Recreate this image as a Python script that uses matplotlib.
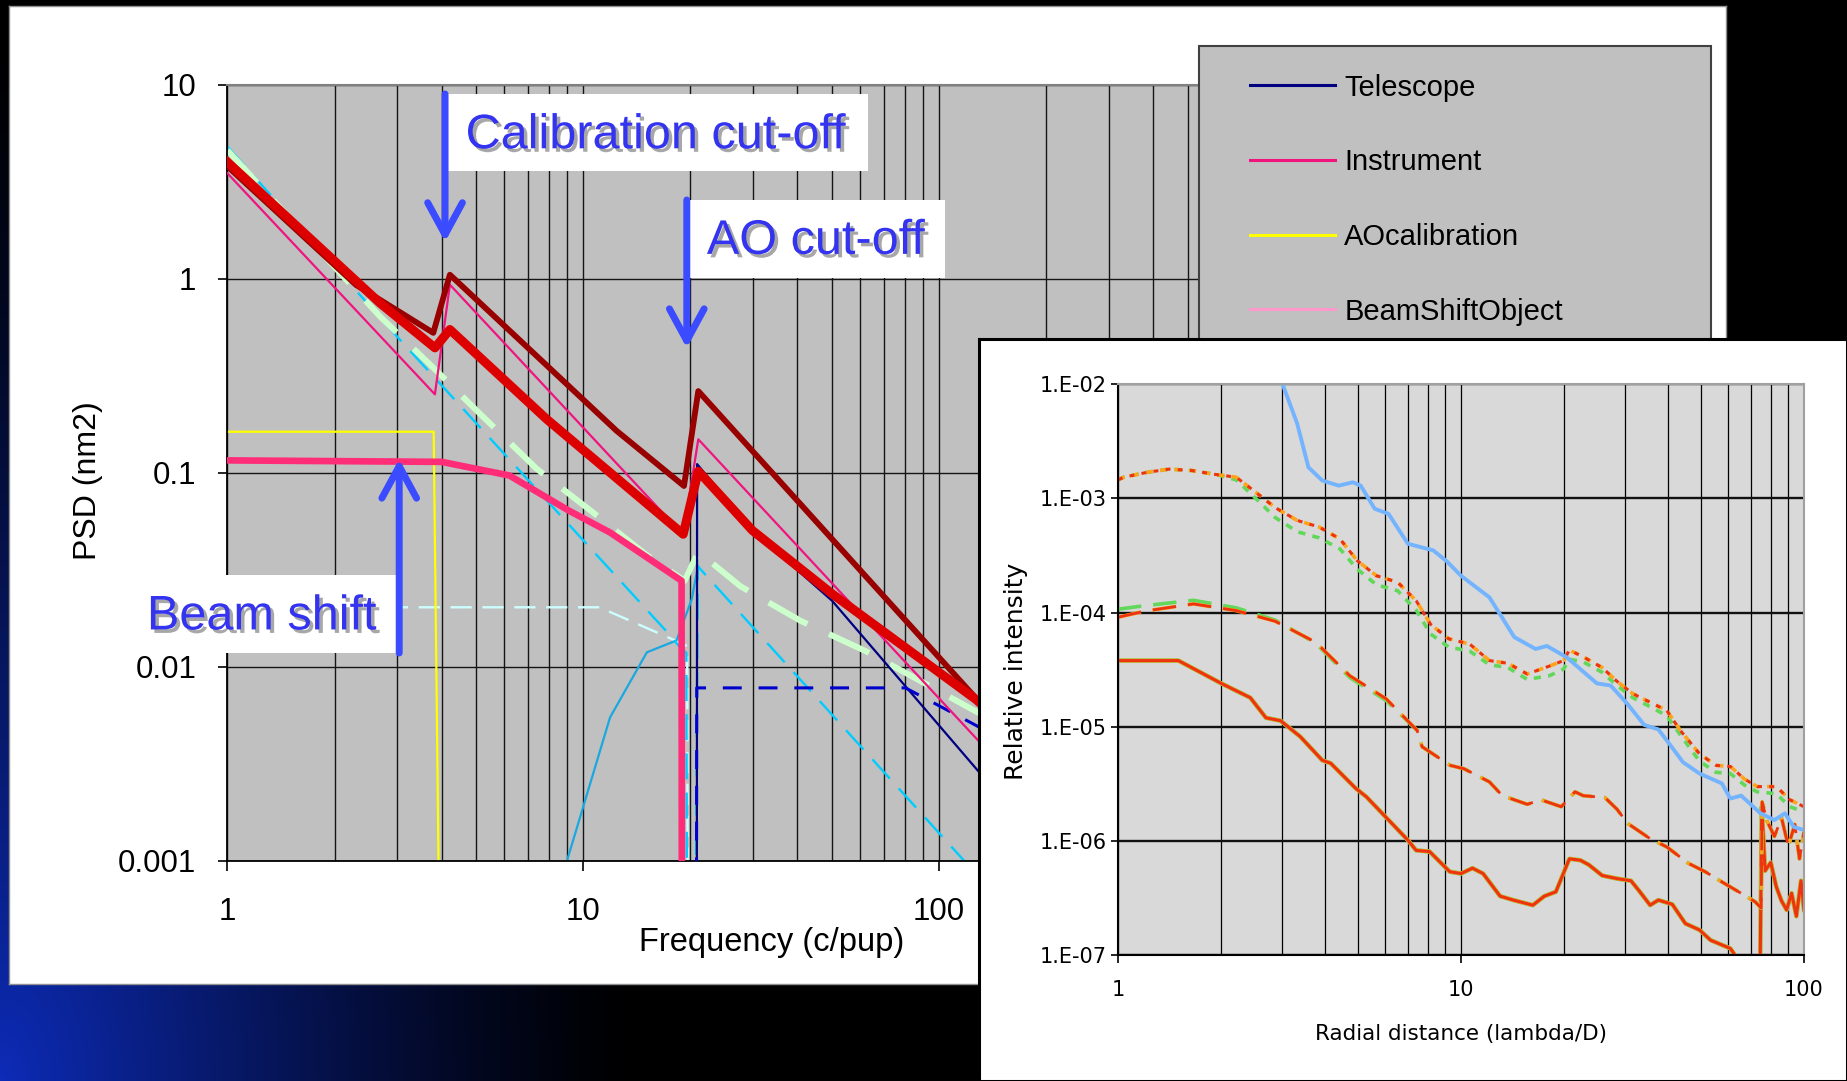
import numpy as np
import matplotlib
matplotlib.use('Agg')
import matplotlib.pyplot as plt
import matplotlib.patheffects as pe
from matplotlib.patches import Rectangle
from matplotlib.lines import Line2D
from matplotlib.ticker import LogLocator, FixedLocator, FixedFormatter, NullLocator

plt.rcParams['font.family'] = ['Liberation Sans', 'DejaVu Sans']

# ---------------- main chart: PSD (nm2) vs frequency (c/pup) ----------------
# thick dark red
total_f = [1, 2.3, 3.79, 4.22, 12.4, 19.2, 21.06, 127, 150]
total_psd = [3.8, 0.93, 0.527, 1.05, 0.165, 0.0856, 0.264, 0.0069, 0.005]
# thick red
sum_f = [1, 2.685, 3.83, 4.22, 7.9, 19.1, 21.06, 29.9, 50.1, 127, 150]
sum_psd = [4.0, 0.75, 0.441, 0.548, 0.189, 0.0483, 0.102, 0.0505, 0.0238, 0.0068, 0.0052]
# Telescope (navy)
tel_f = [20.85, 20.9, 29.9, 50.1, 127, 150]
tel_psd = [1e-4, 0.111, 0.0505, 0.0219, 0.003, 0.0021]
# Instrument (pink)
ins_f = [1, 3.83, 4.22, 19.1, 21.06, 127, 150]
ins_psd = [3.5, 0.254, 0.933, 0.048, 0.149, 0.0043, 0.0031]
# AOcalibration (yellow)
aocal_f = [1, 3.8, 3.92]
aocal_psd = [0.163, 0.163, 0.001]
# beam shift (thick hot pink)
beam_f = [1, 4.0, 6.2, 9.1, 11.9, 18.9, 18.95]
beam_psd = [0.116, 0.114, 0.097, 0.064, 0.0493, 0.0278, 1e-4]
# light green dashed
lgreen_f = [1, 2.685, 3.85, 5.04, 7.4, 10.6, 15, 19.28, 21.06, 27.7, 40.8, 62, 92.7, 127, 150]
lgreen_psd = [4.6, 0.64, 0.339, 0.208, 0.105, 0.063, 0.038, 0.0278, 0.0392, 0.026, 0.0173,
              0.0121, 0.0081, 0.0059, 0.005]
# sky blue dashed
cyan_f = [1, 3.05, 17.4, 18.6, 19.5, 19.6, 20.6, 21.0, 119, 150]
cyan_psd = [4.8, 0.487, 0.0148, 0.0128, 0.0118, 1e-4, 1e-4, 0.033, 0.00098, 0.00062]
# light turquoise dashed
lcyan_f = [1, 11.1, 17.8, 19.6, 19.7]
lcyan_psd = [0.0203, 0.0203, 0.0139, 0.0128, 1e-4]
# thin sky blue
sky_f = [9.0, 11.9, 15.1, 18.3, 20.2, 21.0]
sky_psd = [0.001, 0.0055, 0.0119, 0.0137, 0.0224, 0.033]
# blue dashed
bdash_f = [20.8, 20.85, 80.5, 127, 150]
bdash_psd = [1e-4, 0.0078, 0.0078, 0.005, 0.0042]

main_xticks = [1, 10, 100, 1000]
main_xlabels = ['1', '10', '100', '1000']
main_yticks = [0.001, 0.01, 0.1, 1, 10]
main_ylabels = ['0.001', '0.01', '0.1', '1', '10']
legend_labels = ['Telescope', 'Instrument', 'AOcalibration', 'BeamShiftObject']
legend_colors = ['#000080', '#f0147f', '#ffff00', '#ff99cc']

# ---------------- inset: relative intensity vs radial distance ----------------
blue_r = [2.95, 3.33, 3.59, 3.94, 4.4, 4.84, 5.1, 5.6, 6.15, 7.0, 8.3, 9.1, 10, 12.1, 14.3,
          16.5, 17.8, 20.3, 24.9, 27.3, 30.6, 34.2, 37.6, 40.5, 44.4, 49.6, 57.6, 61, 65.6,
          74.7, 82, 88, 93.4, 100]
blue_i = [1.2e-2, 4.5e-3, 1.87e-3, 1.43e-3, 1.29e-3, 1.38e-3, 1.29e-3, 8.1e-4, 7.3e-4, 4.0e-4,
          3.5e-4, 2.8e-4, 2.1e-4, 1.36e-4, 6.1e-5, 4.8e-5, 5.1e-5, 4.07e-5, 2.4e-5, 2.3e-5,
          1.58e-5, 1.04e-5, 9.5e-6, 7.1e-6, 4.9e-6, 3.9e-6, 3.2e-6, 2.36e-6, 2.5e-6, 1.75e-6,
          1.53e-6, 1.75e-6, 1.33e-6, 1.25e-6]

dot_r = [1.0, 1.04, 1.22, 1.41, 1.64, 1.94, 2.21, 2.52, 2.87, 3.33, 3.86, 4.44, 4.98, 5.67,
         6.54, 7.4, 8.15, 9.2, 10.6, 12.1, 13.7, 15.6, 18.1, 19.9, 20.7, 22.7, 25.8, 28.5,
         31.7, 35.6, 39.8, 43.6, 49.6, 55.4, 61, 67, 73, 83, 91, 100]
dot_red = [1.45e-3, 1.53e-3, 1.69e-3, 1.80e-3, 1.75e-3, 1.61e-3, 1.53e-3, 1.13e-3, 8.3e-4,
           6.4e-4, 5.6e-4, 4.4e-4, 2.85e-4, 2.1e-4, 1.84e-4, 1.27e-4, 7.9e-5, 5.9e-5, 5.3e-5,
           3.8e-5, 3.6e-5, 2.9e-5, 3.4e-5, 3.8e-5, 4.7e-5, 4.1e-5, 3.3e-5, 2.5e-5, 1.95e-5,
           1.64e-5, 1.39e-5, 9.3e-6, 5.8e-6, 4.6e-6, 4.5e-6, 3.5e-6, 3.0e-6, 3.0e-6, 2.3e-6,
           2.0e-6]
dot_green = [1.45e-3, 1.53e-3, 1.69e-3, 1.80e-3, 1.75e-3, 1.61e-3, 1.45e-3, 1.0e-3, 6.8e-4,
             5.1e-4, 4.5e-4, 3.6e-4, 2.4e-4, 1.75e-4, 1.55e-4, 1.05e-4, 6.5e-5, 5.0e-5, 4.6e-5,
             3.5e-5, 3.3e-5, 2.6e-5, 2.8e-5, 3.2e-5, 3.9e-5, 3.7e-5, 3.0e-5, 2.3e-5, 1.8e-5,
             1.5e-5, 1.25e-5, 8.5e-6, 5.0e-6, 4.0e-6, 3.9e-6, 3.1e-6, 2.7e-6, 2.6e-6, 2.0e-6,
             1.8e-6]

dash_r = [1.0, 1.2, 1.66, 2.21, 2.87, 3.77, 4.74, 6.05, 7.45, 7.7, 9.3, 10.2, 12.1, 13.2, 15.6,
          17.1, 19.6, 21.5, 22.7, 26.3, 28.5, 30.6, 35.6, 39.8, 46, 51.5, 57.6, 64.5, 72, 75,
          75.5, 78, 82, 86, 90, 94, 97, 100]
dash_red = [9.1e-5, 1.03e-4, 1.19e-4, 1.04e-4, 8.4e-5, 5.5e-5, 2.8e-5, 1.76e-5, 9.3e-6, 6.7e-6,
            4.6e-6, 4.3e-6, 3.3e-6, 2.5e-6, 2.1e-6, 2.3e-6, 2.0e-6, 2.7e-6, 2.5e-6, 2.4e-6,
            1.9e-6, 1.43e-6, 1.05e-6, 8.9e-7, 6.4e-7, 5.4e-7, 4.4e-7, 3.6e-7, 2.95e-7, 2.6e-7,
            2.2e-6, 1.5e-6, 1.1e-6, 1.6e-6, 9e-7, 1.4e-6, 7e-7, 1.2e-6]
dash_green = [1.07e-4, 1.15e-4, 1.28e-4, 1.1e-4, 8.6e-5, 5.4e-5, 2.7e-5, 1.7e-5, 9.3e-6, 6.7e-6,
              4.6e-6, 4.3e-6, 3.3e-6, 2.5e-6, 2.1e-6, 2.3e-6, 2.0e-6, 2.7e-6, 2.5e-6, 2.4e-6,
              1.9e-6, 1.43e-6, 1.05e-6, 8.9e-7, 6.4e-7, 5.4e-7, 4.4e-7, 3.6e-7, 2.95e-7, 2.6e-7,
              2.2e-6, 1.5e-6, 1.1e-6, 1.6e-6, 9e-7, 1.4e-6, 7e-7, 1.2e-6]

solid_r = [1.0, 1.5, 2.0, 2.43, 2.7, 2.98, 3.4, 3.94, 4.17, 4.93, 5.3, 6.15, 7.0, 7.4, 8.1, 9.27,
           10, 10.8, 11.6, 13.0, 14.2, 16.2, 17.5, 18.9, 20.7, 22.3, 23.6, 25.8, 28.5, 31.3, 33.0,
           35.6, 37.6, 41.3, 45.1, 49.6, 53.4, 61, 63.3, 68, 74.5, 75.3, 77, 80, 83, 86, 89, 92,
           95, 98, 100]
solid_red = [3.8e-5, 3.8e-5, 2.4e-5, 1.8e-5, 1.2e-5, 1.13e-5, 8.2e-6, 5.1e-6, 4.8e-6, 2.9e-6,
             2.44e-6, 1.53e-6, 1.02e-6, 8.3e-7, 8.1e-7, 5.4e-7, 5.2e-7, 5.8e-7, 5.2e-7, 3.3e-7,
             3.05e-7, 2.75e-7, 3.3e-7, 3.6e-7, 7.0e-7, 6.8e-7, 6.2e-7, 5.0e-7, 4.7e-7, 4.5e-7,
             3.7e-7, 2.75e-7, 3.05e-7, 2.8e-7, 1.9e-7, 1.67e-7, 1.36e-7, 1.15e-7, 9.8e-8, 7e-8,
             8e-8, 2.0e-6, 5.5e-7, 6.5e-7, 4e-7, 3e-7, 2.5e-7, 3.5e-7, 2.2e-7, 4.5e-7, 2.5e-7]

inset_xticks = [1, 10, 100]
inset_xlabels = ['1', '10', '100']
inset_yticks = [1e-7, 1e-6, 1e-5, 1e-4, 1e-3, 1e-2]
inset_ylabels = ['1.E-07', '1.E-06', '1.E-05', '1.E-04', '1.E-03', '1.E-02']

# ---------------- figure ----------------
W, H = 1847, 1081
fig = plt.figure(figsize=(W / 100, H / 100), dpi=100)
fig.patch.set_facecolor('black')


def box(x0, y0, x1, y1):
    # pixel box (y from top) -> figure fraction rect
    return [x0 / W, 1 - y1 / H, (x1 - x0) / W, (y1 - y0) / H]


# slide background: blue glow bottom-left
bg = fig.add_axes([0, 0, 1, 1])
yy, xx = np.mgrid[0:H:3, 0:W:3]
d = np.sqrt((xx / 640.0) ** 2 + ((H - yy) / 1050.0) ** 2)
glow = np.clip(1 - d, 0, 1) ** 1.3
img = glow[..., None] * np.array([0.05, 0.17, 0.72])
bg.imshow(img, extent=(0, 1, 0, 1), aspect='auto', origin='upper')
bg.set_xlim(0, 1)
bg.set_ylim(0, 1)
bg.axis('off')

# white slide panel
panel = fig.add_axes(box(9, 6, 1726, 984))
panel.set_facecolor('white')
panel.set_xticks([])
panel.set_yticks([])
for s in panel.spines.values():
    s.set_color('#909090')
    s.set_linewidth(1)

# main axes
ax = fig.add_axes(box(227.4, 84.8, 1294.8, 861))
ax.set_facecolor('#c0c0c0')
ax.set_xscale('log')
ax.set_yscale('log')
ax.set_xlim(1, 1000)
ax.set_ylim(1e-3, 10)
ax.set_axisbelow(True)

ax.plot(lcyan_f, lcyan_psd, color='#ccffff', lw=1.7, dashes=(9, 4.5), zorder=2)
ax.plot(aocal_f, aocal_psd, color='#ffff00', lw=1.6, zorder=2.1)
ax.plot(sky_f, sky_psd, color='#1aa8e0', lw=1.6, zorder=2.2)
ax.plot(cyan_f, cyan_psd, color='#00ccff', lw=1.7, dashes=(11, 5.6), zorder=2.3)
ax.plot(lgreen_f, lgreen_psd, color='#ccffcc', lw=4.3, dashes=(7.4, 4), zorder=2.4)
ax.plot(tel_f, tel_psd, color='#000080', lw=1.6, zorder=2.5)
ax.plot(bdash_f, bdash_psd, color='#0000cc', lw=2.2, dashes=(6.2, 5.5), zorder=2.6)
ax.plot(ins_f, ins_psd, color='#f0147f', lw=1.6, zorder=2.7)
ax.plot(beam_f, beam_psd, color='#ff2d78', lw=4.8, zorder=2.8)
ax.plot(total_f, total_psd, color='#990000', lw=4.2, zorder=2.9)
ax.plot(sum_f, sum_psd, color='#dd0000', lw=6.5, zorder=3.0)

ax.xaxis.set_major_locator(FixedLocator(main_xticks))
ax.xaxis.set_major_formatter(FixedFormatter(main_xlabels))
ax.xaxis.set_minor_locator(LogLocator(base=10, subs=np.arange(2, 10), numticks=30))
ax.yaxis.set_major_locator(FixedLocator(main_yticks))
ax.yaxis.set_major_formatter(FixedFormatter(main_ylabels))
ax.yaxis.set_minor_locator(NullLocator())
ax.grid(which='both', axis='x', color='#151515', lw=1.0)
ax.grid(which='major', axis='y', color='#151515', lw=1.0)
ax.tick_params(axis='both', which='minor', length=0)
ax.tick_params(axis='x', which='major', direction='out', length=7, width=1.2, labelsize=22.5, pad=19)
ax.tick_params(axis='y', which='major', direction='out', length=6.5, width=1.2, labelsize=22.5, pad=16)
ax.spines['top'].set_color('#808080')
ax.spines['top'].set_linewidth(1.5)
ax.spines['right'].set_visible(False)
for s in ('left', 'bottom'):
    ax.spines[s].set_color('black')
    ax.spines[s].set_linewidth(1.3)

ax.set_xlabel('Frequency (c/pup)', fontsize=23.5)
ax.xaxis.label.set_va('center')
ax.xaxis.set_label_coords(0.5098, -0.1044)
ax.set_ylabel('PSD (nm2)', fontsize=23)
ax.yaxis.label.set_va('center')
ax.yaxis.set_label_coords(-0.1306, 0.4896)

# legend box (partly hidden by the inset)
ax.add_patch(Rectangle((1199 / W, 1 - 362 / H), (1711 - 1199) / W, (362 - 46) / H,
                       transform=fig.transFigure, facecolor='#c0c0c0', edgecolor='#404040',
                       lw=1.5, zorder=10, clip_on=False))
handles = [Line2D([], [], color=c, lw=2.2) for c in legend_colors]
leg = ax.legend(handles, legend_labels, loc='upper left', frameon=False,
                bbox_to_anchor=(1238 / W, 1 - 62 / H), bbox_transform=fig.transFigure,
                fontsize=21, handlelength=2.92, handletextpad=0.32, labelspacing=1.6,
                borderpad=0.4, borderaxespad=0)
leg.set_zorder(11)

# annotations
note_color = '#3434f0'
arrow_color = '#3b4bff'
shadow = [pe.withSimplePatchShadow(offset=(2.5, -2.5), shadow_rgbFace='#505050', alpha=0.5)]

notes = [
    # box x0, x1, y0, y1, text x, text y, text, arrow tail, arrow tip
    (4.09, 63.1, 3.60, 8.97, 4.67, 5.46, 'Calibration cut-off', (4.09, 8.97), (4.09, 1.55)),
    (19.55, 103.8, 1.0144, 2.55, 22.26, 1.56, 'AO cut-off', (19.55, 2.55), (19.55, 0.44)),
    (0.5, 3.04, 0.0118, 0.0297, 0.594, 0.0181, 'Beam shift', (3.04, 0.0118), (3.04, 0.118)),
]
for x0, x1, y0, y1, tx, ty, txt, tail, tip in notes:
    ax.add_patch(Rectangle((x0, y0), x1 - x0, y1 - y0, facecolor='white', edgecolor='none',
                           zorder=8, clip_on=False))
    ax.text(tx, ty, txt, fontsize=35, color=note_color, ha='left', va='center', zorder=9,
            path_effects=shadow)
    ax.annotate('', xy=tip, xytext=tail,
                arrowprops=dict(arrowstyle='->,head_length=2.3,head_width=1.25', lw=5,
                                color=arrow_color, shrinkA=0, shrinkB=0, mutation_scale=10),
                zorder=9)

# inset panel
inset_bg = fig.add_axes(box(979, 339, 1847, 1081))
inset_bg.set_facecolor('white')
inset_bg.set_xticks([])
inset_bg.set_yticks([])
for s in inset_bg.spines.values():
    s.set_color('black')
    s.set_linewidth(2.2)

ax2 = fig.add_axes(box(1118, 384, 1804, 955.4))
ax2.set_facecolor('#d9d9d9')
ax2.set_xscale('log')
ax2.set_yscale('log')
ax2.set_xlim(1, 100)
ax2.set_ylim(1e-7, 1e-2)
ax2.set_axisbelow(True)

red_c, orange_c, green_c = '#ec3410', '#ffa31a', '#62d85a'
# solid group
ax2.plot(solid_r, solid_red, color=green_c, lw=3.2)
ax2.plot(solid_r, solid_red, color=orange_c, lw=2.8)
ax2.plot(solid_r, solid_red, color=red_c, lw=2.2)
# dashed group
ax2.plot(dash_r, dash_green, color=green_c, lw=2.6, dashes=(6.5, 3.3))
ax2.plot(dash_r, dash_red, color=orange_c, lw=2.6, dashes=(6.5, 3.3))
ax2.plot(dash_r, dash_red, color=red_c, lw=2.0, dashes=(8.5, 4.3))
# dotted group
ax2.plot(dot_r, dot_green, color=green_c, lw=2.6, dashes=(2, 2))
ax2.plot(dot_r, dot_red, color=orange_c, lw=2.6, dashes=(2, 2))
ax2.plot(dot_r, dot_red, color=red_c, lw=2.2, dashes=(1.6, 2.4))
# light blue
ax2.plot(blue_r, blue_i, color='#74b4ff', lw=2.8)

ax2.xaxis.set_major_locator(FixedLocator(inset_xticks))
ax2.xaxis.set_major_formatter(FixedFormatter(inset_xlabels))
ax2.xaxis.set_minor_locator(LogLocator(base=10, subs=np.arange(2, 10), numticks=30))
ax2.yaxis.set_major_locator(FixedLocator(inset_yticks))
ax2.yaxis.set_major_formatter(FixedFormatter(inset_ylabels))
ax2.yaxis.set_minor_locator(NullLocator())
ax2.grid(which='both', axis='x', color='black', lw=0.9)
ax2.grid(which='major', axis='y', color='#111111', lw=1.7)
ax2.tick_params(axis='both', which='minor', length=0)
ax2.tick_params(axis='x', which='major', direction='out', length=6, width=1.2, labelsize=15,
                pad=12, labelfontfamily='DejaVu Sans')
ax2.tick_params(axis='y', which='major', direction='out', length=5, width=1.2, labelsize=15,
                pad=3, labelfontfamily='DejaVu Sans')
for s in ('top', 'right'):
    ax2.spines[s].set_color('#a0a0a0')
    ax2.spines[s].set_linewidth(1.5)
for s in ('left', 'bottom'):
    ax2.spines[s].set_color('black')
    ax2.spines[s].set_linewidth(1.5)

ax2.set_xlabel('Radial distance (lambda/D)', fontsize=15.5, family='DejaVu Sans')
ax2.xaxis.label.set_va('center')
ax2.xaxis.set_label_coords(0.4994, -0.138)
ax2.set_ylabel('Relative intensity', fontsize=18, family='DejaVu Sans')
ax2.yaxis.label.set_va('center')
ax2.yaxis.set_label_coords(-0.1494, 0.4977)

fig.savefig('out.png', dpi=100, facecolor=fig.get_facecolor())
